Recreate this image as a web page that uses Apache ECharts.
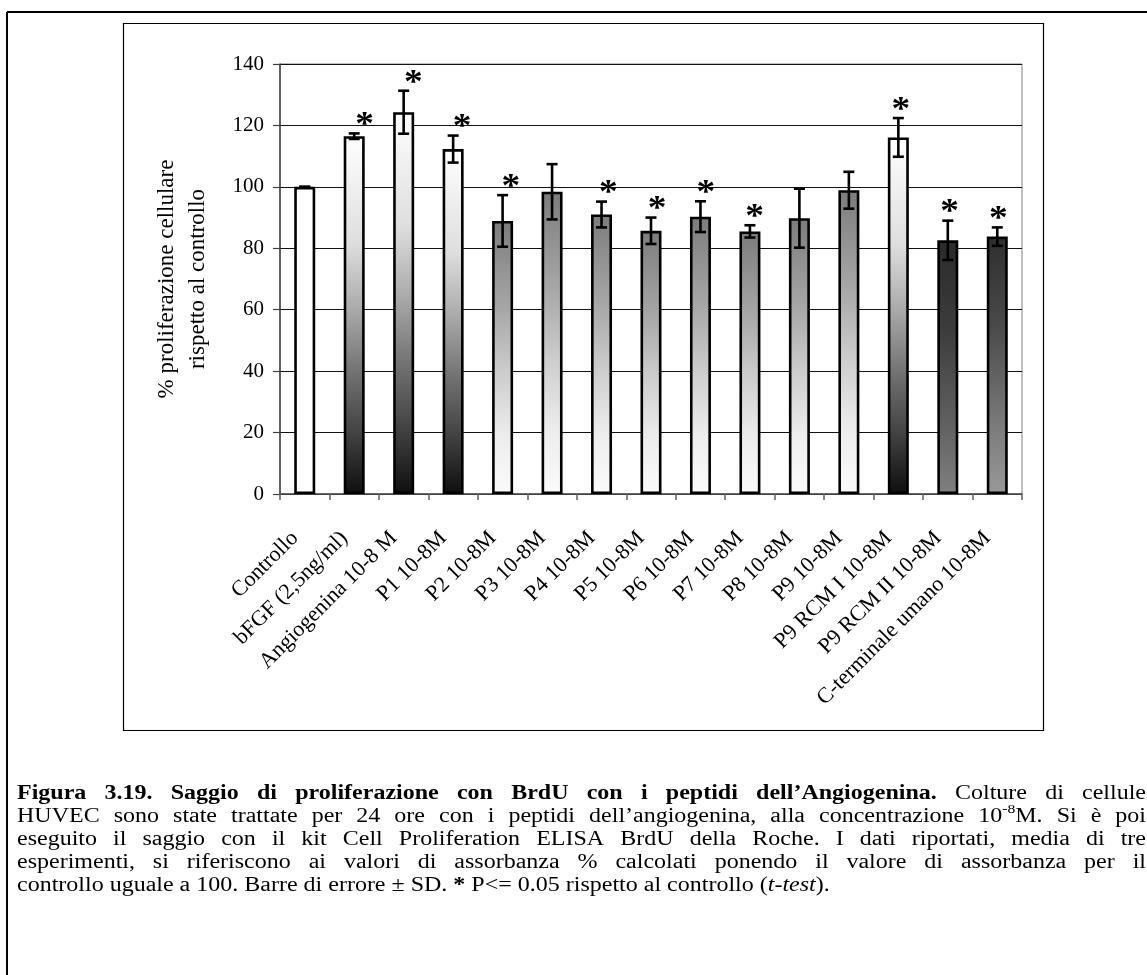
<!DOCTYPE html>
<html>
<head>
<meta charset="utf-8">
<script src="https://cdn.jsdelivr.net/npm/echarts@6/dist/echarts.min.js"></script>
<style>
  html, body { margin: 0; padding: 0; background: #fff; }
  #chart { width: 1147px; height: 975px; }
</style>
</head>
<body>
<div id="chart"></div>
<script>
// ---------------- data ----------------
const categories = [
  'Controllo', 'bFGF (2,5ng/ml)', 'Angiogenina 10-8 M', 'P1 10-8M', 'P2 10-8M',
  'P3 10-8M', 'P4 10-8M', 'P5 10-8M', 'P6 10-8M', 'P7 10-8M', 'P8 10-8M',
  'P9 10-8M', 'P9 RCM I 10-8M', 'P9 RCM II 10-8M', 'C-terminale umano 10-8M'
];
const means = [100, 116.5, 124.3, 112.3, 88.9, 98.4, 91.0, 85.7, 90.3, 85.5, 89.8, 98.9, 116.1, 82.6, 83.8];
const sds   = [0, 0.9, 7.0, 4.4, 8.4, 9.0, 4.2, 4.3, 5.0, 2.0, 9.6, 6.0, 6.3, 6.4, 3.0];
const significant = [false, true, true, true, true, false, true, true, true, true, false, false, true, true, true];
const fillTypes = ['white', 'whiteBlack', 'whiteBlack', 'whiteBlack', 'grayWhite', 'grayWhite', 'grayWhite',
  'grayWhite', 'grayWhite', 'grayWhite', 'grayWhite', 'grayWhite', 'whiteBlack', 'darkGray', 'darkMid'];
const yTickMin = 0, yTickMax = 140, yTickStep = 20;
const yTitle = '% proliferazione cellulare\nrispetto al controllo';
const captionLines = [
  [['Figura 3.19. Saggio di proliferazione con BrdU con i peptidi dell\u2019Angiogenina.', 'b'], [' Colture di cellule', 'n']],
  [['HUVEC sono state trattate per 24 ore con i peptidi dell\u2019angiogenina, alla concentrazione 10', 'n'], ['-8', 'sup'], ['M. Si \u00e8 poi', 'n']],
  [['eseguito il saggio con il kit Cell Proliferation ELISA BrdU della Roche. I dati riportati, media di tre', 'n']],
  [['esperimenti, si riferiscono ai valori di assorbanza % calcolati ponendo il valore di assorbanza per il', 'n']],
  [['controllo uguale a 100. Barre di errore \u00b1 SD. ', 'n'], ['*', 'b'], [' P<= 0.05 rispetto al controllo (', 'n'], ['t-test', 'i'], [').', 'n']]
];

// ---------------- styles ----------------
const FONT = '"Liberation Serif", "Times New Roman", serif';
function grad(stops) {
  return { type: 'linear', x: 0, y: 0, x2: 0, y2: 1,
    colorStops: stops.map(s => ({ offset: s[0], color: s[1] })) };
}
const fills = {
  white: '#ffffff',
  whiteBlack: grad([[0, '#ffffff'], [0.3, '#dedede'], [0.48, '#ababab'], [0.66, '#727272'], [0.83, '#424242'], [1, '#0e0e0e']]),
  grayWhite: grad([[0, '#7c7c7c'], [0.33, '#a8a8a8'], [0.55, '#cccccc'], [0.78, '#ececec'], [1, '#fbfbfb']]),
  darkGray: grad([[0, '#2a2a2a'], [0.35, '#3c3c3c'], [0.7, '#5e5e5e'], [1, '#808080']]),
  darkMid: grad([[0, '#2e2e2e'], [0.35, '#4a4a4a'], [0.7, '#777777'], [1, '#999999']])
};

const barData = means.map((v, i) => ({
  value: v,
  itemStyle: { color: fills[fillTypes[i]] }
}));
const errData = means.map((v, i) => [i, v, sds[i], significant[i] ? 1 : 0]);

// ---------------- caption (justified, wide serif) ----------------
const capLeft = 17, capRight = 1146, capTop = 794, capLineH = 23, capScale = 1.2;
const mctx = document.createElement('canvas').getContext('2d');
function fontSpec(st) {
  return {
    size: st === 'sup' ? 13 : 20,
    weight: st === 'b' ? 'bold' : 'normal',
    style: st === 'i' ? 'italic' : 'normal'
  };
}
function cssFont(f) { return f.style + ' ' + f.weight + ' ' + f.size + 'px ' + FONT; }
function toWords(segs) {
  const words = []; let cur = [];
  segs.forEach(([t, st]) => {
    t.split(' ').forEach((p, k) => {
      if (k > 0) { if (cur.length) words.push(cur); cur = []; }
      if (p) cur.push({ t: p, st: st });
    });
  });
  if (cur.length) words.push(cur);
  return words;
}
const captionEls = [];
mctx.font = cssFont(fontSpec('n'));
const spaceW = mctx.measureText(' ').width * capScale;
captionLines.forEach((segs, li) => {
  const words = toWords(segs);
  let total = 0;
  words.forEach(w => w.forEach(p => {
    mctx.font = cssFont(fontSpec(p.st));
    p.w = mctx.measureText(p.t).width * capScale;
    total += p.w;
  }));
  const isLast = li === captionLines.length - 1;
  const gap = isLast ? spaceW : (capRight - capLeft - total) / (words.length - 1);
  let x = capLeft;
  const yMid = capTop + li * capLineH;
  words.forEach(w => {
    w.forEach(p => {
      const f = fontSpec(p.st);
      captionEls.push({
        type: 'text', x: x, y: yMid + (p.st === 'sup' ? -7 : 0), scaleX: capScale, silent: true,
        style: { text: p.t, fontFamily: FONT, fontSize: f.size, fontWeight: f.weight,
          fontStyle: f.style, fill: '#000', align: 'left', verticalAlign: 'middle' }
      });
      x += p.w;
    });
    x += gap;
  });
});

// ---------------- chart ----------------
const chart = echarts.init(document.getElementById('chart'), null, { renderer: 'canvas' });
chart.setOption({
  backgroundColor: '#ffffff',
  animation: false,
  grid: { left: 280, right: 125, top: 64, bottom: 481, show: true, borderColor: '#808080', borderWidth: 1,
          backgroundColor: 'transparent', outerBoundsMode: 'none' },
  xAxis: {
    type: 'category',
    data: categories,
    axisLine: { show: true, lineStyle: { color: '#505050', width: 1.5 } },
    axisTick: { show: true, interval: 0, length: 6, alignWithLabel: false, lineStyle: { color: '#606060', width: 1.5 } },
    axisLabel: { interval: 0, rotate: 45, margin: 31, padding: [0, 14, 0, 0], fontFamily: FONT, fontSize: 22,
                 color: '#000', hideOverlap: false },
    splitLine: { show: false }
  },
  yAxis: {
    type: 'value',
    min: yTickMin, max: yTickMax, interval: yTickStep,
    name: yTitle,
    nameLocation: 'middle',
    nameRotate: 90,
    nameGap: 67,
    nameTextStyle: { fontFamily: FONT, fontSize: 23, lineHeight: 31, color: '#000' },
    axisLine: { show: true, lineStyle: { color: '#404040', width: 1.5 } },
    axisTick: { show: true, length: 7, lineStyle: { color: '#404040', width: 1.2 } },
    axisLabel: { margin: 16, fontFamily: FONT, fontSize: 21, color: '#000' },
    splitLine: { show: true, lineStyle: { color: '#111111', width: 1 } }
  },
  series: [
    {
      type: 'bar',
      data: barData,
      barWidth: 21,
      itemStyle: { borderColor: '#000', borderWidth: 2.6 },
      z: 2
    },
    {
      type: 'custom',
      data: errData,
      z: 5,
      clip: false,
      renderItem: function (params, api) {
        const i = api.value(0), v = api.value(1), e = api.value(2), sig = api.value(3);
        const top = api.coord([i, v + e]);
        const bot = api.coord([i, v - e]);
        const cap = 5.5;
        const lineStyle = { stroke: '#000', lineWidth: 2.6 };
        const children = [
          { type: 'line', shape: { x1: top[0], y1: top[1], x2: bot[0], y2: bot[1] }, style: lineStyle },
          { type: 'line', shape: { x1: top[0] - cap, y1: top[1], x2: top[0] + cap, y2: top[1] }, style: lineStyle },
          { type: 'line', shape: { x1: bot[0] - cap, y1: bot[1], x2: bot[0] + cap, y2: bot[1] }, style: lineStyle }
        ];
        if (sig) {
          children.push({
            type: 'text', x: top[0] + 11 - 0.7 * i, y: top[1] - 8, scaleX: 1.1,
            style: { text: '*', fontFamily: FONT, fontSize: 34, fontWeight: 'bold', fill: '#000',
                     align: 'center', verticalAlign: 'middle' }
          });
        }
        return { type: 'group', children: children };
      }
    }
  ],
  graphic: [
    { type: 'line', silent: true, shape: { x1: 7, y1: 12, x2: 1147, y2: 12 }, style: { stroke: '#000', lineWidth: 2 } },
    { type: 'line', silent: true, shape: { x1: 7, y1: 12, x2: 7, y2: 975 }, style: { stroke: '#000', lineWidth: 2 } },
    { type: 'rect', silent: true, shape: { x: 123.5, y: 23.5, width: 920, height: 707 },
      style: { fill: 'none', stroke: '#000', lineWidth: 1.2 }, z: -1 }
  ].concat(captionEls)
});
</script>
</body>
</html>
